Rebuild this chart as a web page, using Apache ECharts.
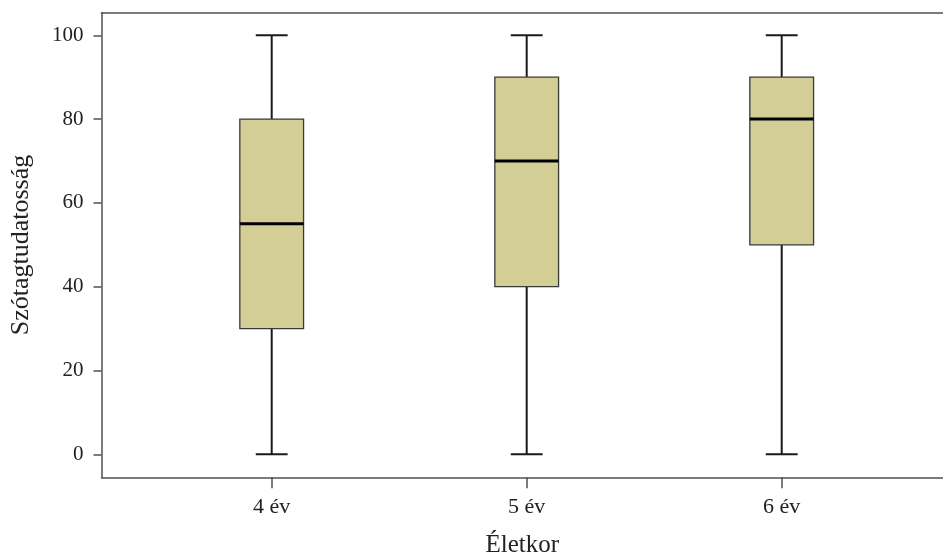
<!DOCTYPE html>
<html>
<head>
<meta charset="utf-8">
<script src="https://cdn.jsdelivr.net/npm/echarts@6/dist/echarts.min.js"></script>
<style>html,body{margin:0;padding:0;background:#fff}#c{width:943px;height:560px}</style>
</head>
<body>
<div id="c"></div>
<script>
const categories = ['4 év', '5 év', '6 év'];
const mins = [0, 0, 0];
const q1s = [30, 40, 50];
const medians = [55, 70, 80];
const q3s = [80, 90, 90];
const maxs = [100, 100, 100];
const yTicks = [0, 20, 40, 60, 80, 100];

const FONT = '"Liberation Serif", "DejaVu Serif", serif';
const TXT = '#222';
const FRAME = '#505050';

const boxData = categories.map((c, i) => [i, mins[i], q1s[i], medians[i], q3s[i], maxs[i]]);

const chart = echarts.init(document.getElementById('c'), null, {renderer: 'canvas'});
const gridTop = 12.7, gridBottom = 560 - 477.3;
chart.setOption({
  animation: false,
  backgroundColor: '#fff',
  grid: [
    {left: 101.5, right: 0, top: gridTop, bottom: gridBottom, show: false, containLabel: false, outerBoundsMode: 'none'},
    {left: 144.2, right: 33.8, top: gridTop, bottom: gridBottom, show: false, containLabel: false, outerBoundsMode: 'none'}
  ],
  xAxis: [
    {type: 'value', gridIndex: 0, min: 0, max: 1, position: 'bottom',
     axisLine: {show: true, onZero: false, lineStyle: {color: FRAME, width: 1.5}},
     axisTick: {show: false}, axisLabel: {show: false}, splitLine: {show: false},
     name: 'Életkor', nameLocation: 'middle', nameGap: 56,
     nameTextStyle: {fontFamily: FONT, fontSize: 25, color: TXT}},
    {type: 'value', gridIndex: 0, min: 0, max: 1, position: 'top',
     axisLine: {show: true, onZero: false, lineStyle: {color: FRAME, width: 1.5}},
     axisTick: {show: false}, axisLabel: {show: false}, splitLine: {show: false}},
    {type: 'category', gridIndex: 1, data: categories, position: 'bottom',
     axisLine: {show: false, onZero: false},
     axisTick: {show: true, alignWithLabel: true, length: 11, lineStyle: {color: FRAME, width: 1.5}},
     axisLabel: {margin: 19, fontFamily: FONT, fontSize: 22, color: TXT},
     splitLine: {show: false}}
  ],
  yAxis: [
    {type: 'value', gridIndex: 0, min: -5.5, max: 105.4,
     axisLine: {show: true, onZero: false, lineStyle: {color: FRAME, width: 1.5}},
     axisTick: {show: true, length: 8, customValues: yTicks, lineStyle: {color: FRAME, width: 1.5}},
     axisLabel: {customValues: yTicks, margin: 18, fontFamily: FONT, fontSize: 21, color: TXT},
     splitLine: {show: false},
     name: 'Szótagtudatosság', nameLocation: 'middle', nameGap: 67,
     nameTextStyle: {fontFamily: FONT, fontSize: 26, color: TXT}},
    {type: 'value', gridIndex: 1, min: -5.5, max: 105.4, show: false}
  ],
  series: [{
    type: 'custom',
    xAxisIndex: 2,
    yAxisIndex: 1,
    data: boxData,
    encode: {x: 0, y: [1, 2, 3, 4, 5]},
    renderItem: function (params, api) {
      const idx = api.value(0);
      const pMin = api.coord([idx, api.value(1)]);
      const pQ1 = api.coord([idx, api.value(2)]);
      const pMed = api.coord([idx, api.value(3)]);
      const pQ3 = api.coord([idx, api.value(4)]);
      const pMax = api.coord([idx, api.value(5)]);
      const band = api.size([1, 0])[0];
      const bw = band * 0.25;
      const cw = bw / 2;
      const x = pQ1[0];
      const wStyle = {stroke: '#1a1a1a', lineWidth: 2};
      return {type: 'group', children: [
        {type: 'line', shape: {x1: x, y1: pMin[1], x2: x, y2: pQ1[1]}, style: wStyle},
        {type: 'line', shape: {x1: x, y1: pQ3[1], x2: x, y2: pMax[1]}, style: wStyle},
        {type: 'line', shape: {x1: x - cw / 2, y1: pMin[1], x2: x + cw / 2, y2: pMin[1]}, style: wStyle},
        {type: 'line', shape: {x1: x - cw / 2, y1: pMax[1], x2: x + cw / 2, y2: pMax[1]}, style: wStyle},
        {type: 'rect', shape: {x: x - bw / 2, y: pQ3[1], width: bw, height: pQ1[1] - pQ3[1]},
         style: {fill: '#d2ce96', stroke: '#3a3a3a', lineWidth: 1.3}},
        {type: 'line', shape: {x1: x - bw / 2, y1: pMed[1], x2: x + bw / 2, y2: pMed[1]},
         style: {stroke: '#000', lineWidth: 3}}
      ]};
    }
  }]
});
</script>
</body>
</html>
